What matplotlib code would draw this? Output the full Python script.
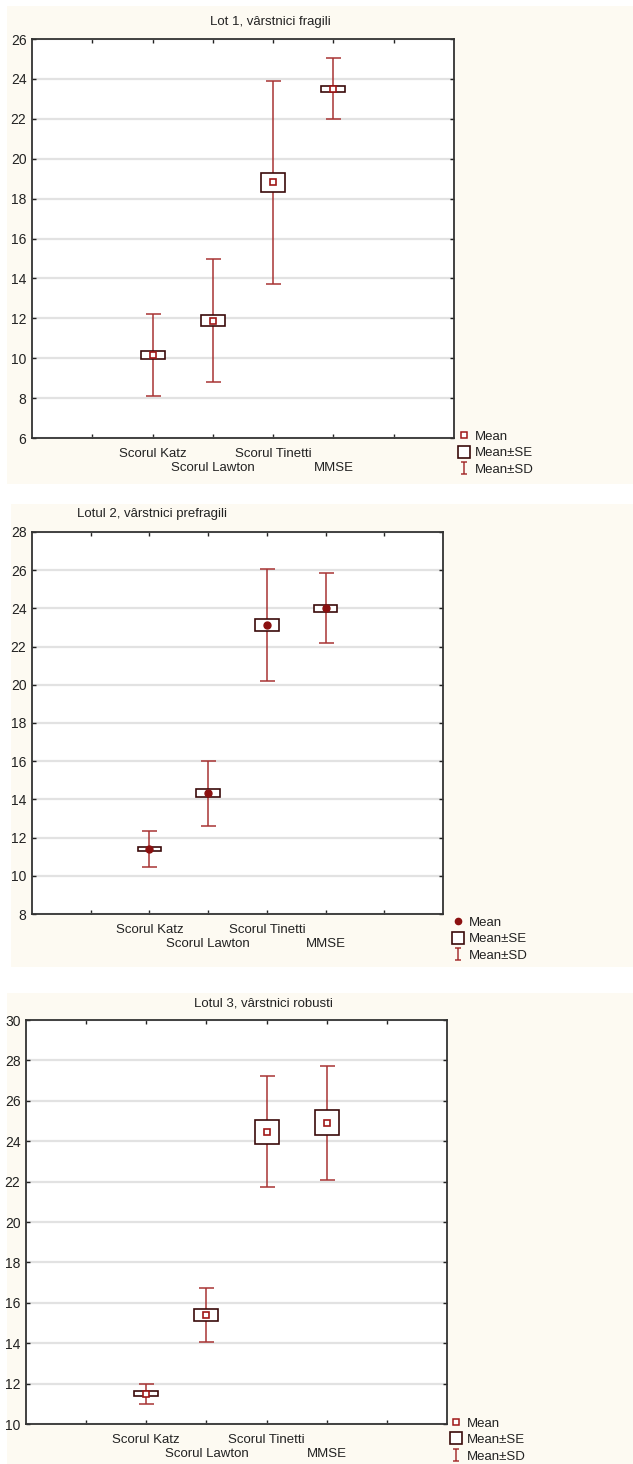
import matplotlib
matplotlib.use("Agg")
import matplotlib.pyplot as plt
import matplotlib.transforms as mtransforms
from matplotlib.lines import Line2D
from matplotlib.patches import Rectangle
from matplotlib.path import Path
import numpy as np

plt.rcParams['font.family'] = ['Liberation Sans', 'DejaVu Sans']

# categories (labels alternate between two rows)
categories = ["Scorul Katz", "Scorul Lawton", "Scorul Tinetti", "MMSE"]
cat_pos = [2, 3, 4, 5]

titles = ["Lot 1, vârstnici fragili", "Lotul 2, vârstnici prefragili", "Lotul 3, vârstnici robusti"]

# Lot 1, varstnici fragili
mean1 = [10.17, 11.88, 18.82, 23.50]
se1 = [0.19, 0.29, 0.48, 0.14]
sd1 = [2.06, 3.07, 5.09, 1.53]

# Lotul 2, varstnici prefragili
mean2 = [11.40, 14.33, 23.12, 24.00]
se2 = [0.10, 0.20, 0.32, 0.20]
sd2 = [0.95, 1.70, 2.92, 1.83]

# Lotul 3, varstnici robusti
mean3 = [11.50, 15.41, 24.47, 24.91]
se3 = [0.12, 0.29, 0.60, 0.62]
sd3 = [0.50, 1.34, 2.74, 2.83]

ylims = [(6, 26), (8, 28), (10, 30)]

W, H = 633, 1464
fig = plt.figure(figsize=(W / 100, H / 100), dpi=100)
fig.patch.set_facecolor("white")

def fx(px):
    return px / W

def fy(py):
    return 1 - py / H

cream = "#fdfaf2"
red = "#a83434"
dark = "#3b0b0b"
mred = "#a01818"
txt = "#222222"

# layout in pixels: background box, axes box, title pos, legend pos
panels = [
    dict(bg=(7, 6, 633, 484), ax=(32, 39, 454, 438), title=(270, 22),
         leg=(458, 453), mean=mean1, se=se1, sd=sd1, filled=False),
    dict(bg=(11, 504, 633, 967), ax=(32, 532, 443, 914), title=(152, 514),
         leg=(452, 939), mean=mean2, se=se2, sd=sd2, filled=True),
    dict(bg=(7, 993, 633, 1464), ax=(26, 1020, 447, 1424), title=(263, 1003),
         leg=(450, 1440), mean=mean3, se=se3, sd=sd3, filled=False),
]

sd_marker = Path([(-0.5, 1), (0.5, 1), (0, 1), (0, -1), (-0.5, -1), (0.5, -1)],
                 [Path.MOVETO, Path.LINETO, Path.MOVETO, Path.LINETO, Path.MOVETO, Path.LINETO])

for i, p in enumerate(panels):
    x0, y0, x1, y1 = p["bg"]
    fig.patches.append(Rectangle((fx(x0), fy(y1)), fx(x1 - x0), (y1 - y0) / H,
                                 transform=fig.transFigure, facecolor=cream,
                                 edgecolor="none", zorder=-5))
    a0, b0, a1, b1 = p["ax"]
    ax = fig.add_axes([fx(a0), fy(b1), fx(a1 - a0), (b1 - b0) / H])
    ax.set_facecolor("white")
    ax.set_xlim(0, 7)
    ax.set_ylim(*ylims[i])
    ax.set_yticks(np.arange(ylims[i][0], ylims[i][1] + 1, 2))
    ax.set_xticks([1, 2, 3, 4, 5, 6])
    ax.set_xticklabels(["", categories[0], "", categories[2], "", ""])
    ax.tick_params(direction="in", length=3, width=1, top=True, right=True,
                   colors=txt, pad=4)
    ax.tick_params(axis="y", labelsize=10)
    ax.tick_params(axis="x", labelsize=9.5, pad=7)
    # second row of category labels
    row2 = mtransforms.offset_copy(ax.get_xaxis_transform(), fig=fig, x=0, y=-24, units="dots")
    for k in (1, 3):
        ax.text(cat_pos[k], 0, categories[k], transform=row2, ha="center", va="top",
                fontsize=9.5, color=txt)
    ax.grid(axis="y", color="#e2e2e2", lw=1.6)
    ax.set_axisbelow(True)
    for s in ax.spines.values():
        s.set_color("#333333")
        s.set_linewidth(1.3)

    m = np.array(p["mean"])
    se = np.array(p["se"])
    sd = np.array(p["sd"])
    ax.errorbar(cat_pos, m, yerr=sd, fmt="none", ecolor=red, elinewidth=1.1,
                capsize=5.4, capthick=1.1, zorder=3)
    ax.bar(cat_pos, 2 * se, bottom=m - se, width=0.4, facecolor="white",
           edgecolor=dark, linewidth=1.2, zorder=4)
    if p["filled"]:
        ax.plot(cat_pos, m, ls="", marker="o", ms=5, color="#8b1010", zorder=5)
        mean_h = Line2D([], [], ls="", marker="o", ms=4.5, color="#8b1010")
    else:
        ax.plot(cat_pos, m, ls="", marker="s", ms=4.5, mfc="white", mec=mred,
                mew=1.2, zorder=5)
        mean_h = Line2D([], [], ls="", marker="s", ms=4.5, mfc="white", mec=mred, mew=1.1)

    fig.text(fx(p["title"][0]), fy(p["title"][1]), titles[i], ha="center",
             va="center", fontsize=9.5, color=txt)

    se_h = Line2D([], [], ls="", marker="s", ms=8.5, mfc="white", mec=dark, mew=1.2)
    sd_h = Line2D([], [], ls="", marker=sd_marker, ms=9, color=red, mew=1.1)
    fig.legend([mean_h, se_h, sd_h], ["Mean", "Mean±SE", "Mean±SD"],
               loc="center left", bbox_to_anchor=(fx(p["leg"][0]), fy(p["leg"][1])),
               frameon=False, fontsize=9.5, handlelength=0.9, handletextpad=0.35,
               borderpad=0, borderaxespad=0, labelspacing=0.32,
               labelcolor=txt)

fig.savefig("out.png", dpi=100)
